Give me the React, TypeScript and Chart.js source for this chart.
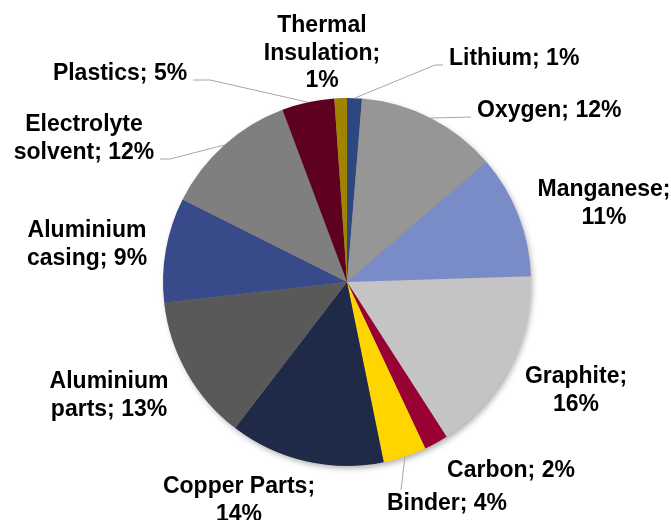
import React, { useEffect, useRef } from "react";
import { Chart, registerables } from "chart.js";

Chart.register(...registerables);

const categories = [
  "Lithium",
  "Oxygen",
  "Manganese",
  "Graphite",
  "Carbon",
  "Binder",
  "Copper Parts",
  "Aluminium parts",
  "Aluminium casing",
  "Electrolyte solvent",
  "Plastics",
  "Thermal Insulation",
];

const shares = [1.3, 12.4, 10.8, 16.4, 2.1, 3.8, 13.6, 12.8, 9.2, 11.9, 4.6, 1.1];

const colors = [
  "#2D4880",
  "#969696",
  "#7A8CC8",
  "#C4C4C4",
  "#990033",
  "#FFD500",
  "#1F2A48",
  "#595959",
  "#384A8A",
  "#7F7F7F",
  "#5E0020",
  "#A08400",
];

// how each label's name is broken into lines ("|" = line break)
const labelLines = [
  "Lithium; {p}",
  "Oxygen; {p}",
  "Manganese;|{p}",
  "Graphite;|{p}",
  "Carbon; {p}",
  "Binder; {p}",
  "Copper Parts;|{p}",
  "Aluminium|parts; {p}",
  "Aluminium|casing; {p}",
  "Electrolyte|solvent; {p}",
  "Plastics; {p}",
  "Thermal|Insulation;|{p}",
];

// label layout: offset of the first baseline from pie centre, alignment
const labelLayout: { dx: number; dy: number; align: CanvasTextAlign }[] = [
  { dx: 102, dy: -217, align: "left" },
  { dx: 130, dy: -165, align: "left" },
  { dx: 257, dy: -86, align: "center" },
  { dx: 229, dy: 101, align: "center" },
  { dx: 164, dy: 195, align: "center" },
  { dx: 100, dy: 228, align: "center" },
  { dx: -108, dy: 211, align: "center" },
  { dx: -238, dy: 106, align: "center" },
  { dx: -260, dy: -45, align: "center" },
  { dx: -263, dy: -151, align: "center" },
  { dx: -227, dy: -202, align: "center" },
  { dx: -25, dy: -250, align: "center" },
];

// leader lines: points (relative to pie centre) after the slice's outer midpoint
const leaders: ({ x: number; y: number }[] | null)[] = [
  [{ x: 88, y: -217 }, { x: 96, y: -217 }],
  [{ x: 124, y: -165 }],
  null,
  null,
  null,
  [{ x: 54, y: 208 }],
  null,
  null,
  null,
  [{ x: -177, y: -123 }, { x: -187, y: -123 }],
  [{ x: -137, y: -202 }, { x: -154, y: -202 }],
  null,
];

const FONT = "bold 23px 'Liberation Sans', Arial, sans-serif";
const LINE_H = 27.5;

const shadowPlugin = {
  id: "pieShadow",
  beforeDatasetsDraw(chart: any) {
    const meta = chart.getDatasetMeta(0);
    const arc = meta.data[0];
    if (!arc) return;
    const { x, y, outerRadius } = arc.getProps(["x", "y", "outerRadius"], true);
    const ctx = chart.ctx;
    ctx.save();
    ctx.shadowColor = "rgba(0,0,0,0.35)";
    ctx.shadowBlur = 6;
    ctx.shadowOffsetX = 2;
    ctx.shadowOffsetY = 3;
    ctx.fillStyle = "#888";
    ctx.beginPath();
    ctx.arc(x, y, outerRadius - 1, 0, Math.PI * 2);
    ctx.fill();
    ctx.restore();
  },
};

const labelPlugin = {
  id: "pieLabels",
  afterDatasetsDraw(chart: any) {
    const meta = chart.getDatasetMeta(0);
    const ctx = chart.ctx;
    const values = chart.data.datasets[0].data as number[];
    ctx.save();
    meta.data.forEach((el: any, i: number) => {
      const { x, y, startAngle, endAngle, outerRadius } = el.getProps(
        ["x", "y", "startAngle", "endAngle", "outerRadius"],
        true
      );
      const mid = (startAngle + endAngle) / 2;
      const lead = leaders[i];
      if (lead) {
        ctx.strokeStyle = "#A6A6A6";
        ctx.lineWidth = 1;
        ctx.beginPath();
        ctx.moveTo(x + Math.cos(mid) * outerRadius, y + Math.sin(mid) * outerRadius);
        lead.forEach((p) => ctx.lineTo(x + p.x, y + p.y));
        ctx.stroke();
      }
      const pct = Math.round(values[i]) + "%";
      const lines = labelLines[i].replace("{p}", pct).split("|");
      const lay = labelLayout[i];
      ctx.font = FONT;
      ctx.fillStyle = "#000000";
      ctx.textAlign = lay.align;
      ctx.textBaseline = "alphabetic";
      lines.forEach((ln, k) => {
        ctx.fillText(ln, x + lay.dx, y + lay.dy + k * LINE_H);
      });
    });
    ctx.restore();
  },
};

export default function App() {
  const ref = useRef<HTMLCanvasElement | null>(null);
  useEffect(() => {
    document.body.style.margin = "0";
    const canvas = ref.current!;
    const chart = new Chart(canvas, {
      type: "pie",
      data: {
        labels: categories,
        datasets: [
          {
            data: shares,
            backgroundColor: colors,
            borderWidth: 0,
          },
        ],
      },
      options: {
        animation: false,
        responsive: false,
        maintainAspectRatio: false,
        layout: { padding: { left: 163, right: 140, top: 98, bottom: 54 } },
        plugins: {
          legend: { display: false },
          tooltip: { enabled: false },
        },
      },
      plugins: [shadowPlugin, labelPlugin],
    });
    return () => chart.destroy();
  }, []);
  return (
    <div style={{ width: 671, height: 520, background: "#fff" }}>
      <canvas ref={ref} width={671} height={520} style={{ display: "block" }} />
    </div>
  );
}
